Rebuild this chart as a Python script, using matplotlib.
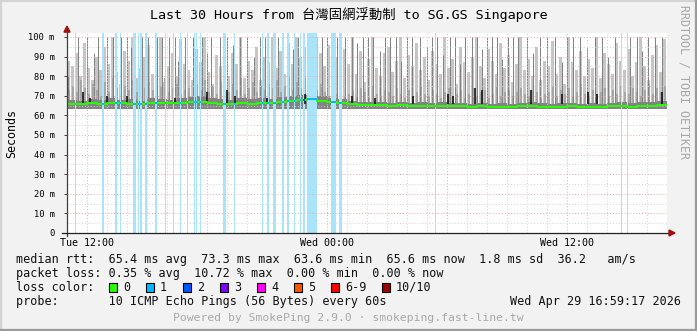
import numpy as np
import pandas as pd
import matplotlib
matplotlib.use("Agg")
import matplotlib.pyplot as plt
import matplotlib.dates as mdates
from matplotlib.patches import Rectangle, Polygon

start = pd.Timestamp("2026-04-28 11:00")
hours = 30

# median rtt in ms, one value every 30 minutes
median_rtt = [66.0, 65.8, 66.2, 65.9, 66.1, 66.3, 66.0, 65.7, 66.2, 66.4,
              66.1, 66.5, 66.8, 67.0, 66.4, 66.0, 65.8, 66.2, 66.0, 66.3,
              66.1, 66.6, 67.2, 67.8, 68.5, 67.6, 66.9, 66.2, 65.6, 65.4,
              65.2, 65.3, 65.0, 65.1, 64.9, 65.0, 64.8, 65.0, 64.9, 64.7,
              64.5, 64.6, 64.3, 64.5, 64.4, 64.6, 64.8, 64.5, 64.3, 64.4,
              64.6, 64.4, 64.5, 64.3, 64.6, 64.8, 64.5, 64.7, 65.0, 65.4]

# top of the dark smoke band near the median, every 30 minutes
smoke_dark = [68.0, 67.5, 68.5, 68.0, 69.0, 68.0, 68.5, 67.5, 69.0, 68.5,
              68.0, 69.0, 69.5, 70.0, 69.0, 68.5, 68.0, 69.0, 68.5, 69.0,
              68.5, 69.5, 70.0, 70.5, 71.0, 70.0, 69.0, 68.5, 67.5, 67.0,
              67.0, 67.0, 66.5, 67.0, 66.5, 67.0, 66.5, 67.0, 66.5, 66.5,
              66.0, 66.5, 66.0, 66.5, 66.0, 66.5, 67.0, 66.5, 66.0, 66.5,
              66.5, 66.0, 66.5, 66.0, 66.5, 67.0, 66.5, 67.0, 67.0, 67.5]

# smoke, one value every 12 minutes: highest ping (light) and middle pings
smoke_max = [88, 85, 92, 80, 97, 84, 78, 90, 83, 95,
             86, 100, 82, 76, 93, 88, 100, 79, 84, 90,
             96, 81, 88, 100, 77, 85, 92, 80, 99, 86,
             83, 78, 94, 87, 100, 82, 76, 91, 85, 97,
             80, 92, 86, 100, 79, 88, 83, 95, 78, 90,
             87, 100, 84, 93, 81, 97, 86, 100, 90, 95,
             98, 88, 100, 92, 85, 96, 83, 90, 79, 94,
             86, 100, 81, 93, 77, 89, 100, 84, 80, 92,
             95, 82, 88, 100, 79, 91, 85, 97, 83, 90,
             78, 93, 86, 81, 100, 84, 89, 76, 95, 87,
             82, 90, 100, 85, 79, 94, 88, 81, 97, 84,
             91, 77, 86, 100, 83, 89, 80, 95, 78, 88,
             85, 98, 81, 90, 76, 100, 87, 83, 93, 80,
             89, 84, 100, 79, 92, 86, 81, 97, 88, 83,
             94, 80, 87, 100, 85, 78, 91, 96, 82, 99]
smoke_mid = [73, 75, 72, 78, 74, 71, 76, 73, 70, 77,
             72, 79, 74, 71, 75, 73, 78, 72, 76, 74,
             77, 73, 71, 75, 79, 72, 74, 76, 71, 73,
             74, 70, 76, 73, 78, 72, 75, 71, 77, 74,
             72, 76, 73, 79, 71, 74, 77, 72, 75, 73,
             76, 74, 78, 72, 75, 80, 73, 77, 74, 79,
             78, 75, 73, 76, 72, 70, 74, 71, 73, 70,
             71, 73, 70, 74, 72, 69, 75, 71, 70, 73,
             72, 70, 74, 71, 69, 73, 70, 72, 75, 71,
             70, 73, 71, 69, 72, 74, 70, 71, 73, 69,
             71, 74, 70, 72, 73, 69, 71, 75, 70, 72,
             73, 70, 72, 74, 71, 70, 73, 72, 69, 71,
             72, 75, 70, 73, 71, 74, 70, 72, 76, 71,
             70, 73, 71, 72, 74, 70, 73, 71, 75, 72,
             71, 74, 72, 70, 73, 76, 71, 74, 72, 75]

# thin smoke spikes: minutes after start, top in ms
spike_min = [3, 33, 60, 81, 93, 120, 138, 162, 180, 192, 225, 243, 270, 285,
             306, 324, 333, 354, 378, 405, 420, 432, 459, 480, 498, 519, 540,
             561, 579, 594, 633, 660, 678, 693, 708, 723, 765, 780, 795, 810,
             834, 855, 870, 888, 903, 918, 939, 954, 969, 987, 1002, 1020,
             1035, 1059, 1080, 1095, 1110, 1128, 1149, 1164, 1179, 1194, 1215,
             1230, 1245, 1260, 1275, 1290, 1305, 1323, 1338, 1353, 1380, 1398,
             1419, 1440, 1464, 1485, 1500, 1518, 1539, 1560, 1584, 1605, 1623,
             1644, 1689, 1710, 1725, 1743, 1764, 1785]
spike_top = [80, 100, 100, 92, 100, 100, 100, 100, 100, 95, 100, 100, 100, 100,
             100, 100, 88, 100, 100, 100, 92, 100, 100, 100, 96, 100, 100,
             90, 100, 100, 100, 100, 94, 100, 100, 100, 100, 100, 90, 100,
             100, 100, 97, 100, 100, 100, 93, 100, 100, 100, 88, 100,
             100, 100, 95, 100, 100, 91, 100, 100, 86, 100, 100,
             100, 94, 100, 100, 100, 89, 100, 100, 100, 100, 92,
             100, 100, 100, 87, 100, 100, 100, 95, 100, 100, 90,
             100, 100, 100, 93, 100, 100, 100]

# short dark spikes close to the median
black_min = [48, 69, 120, 180, 324, 420, 480, 504, 600, 714, 855, 924, 1038,
             1143, 1158, 1224, 1245, 1392, 1485, 1563, 1590, 1785]
black_top = [72, 69, 70, 70, 69, 72, 73, 70, 69, 71, 70, 69, 70,
             71, 70, 74, 73, 73, 71, 72, 71, 72]

# packet loss: minutes after start, duration in minutes, lost pings out of 10
loss_start = [24, 105, 144, 159, 198, 213, 219, 234, 264, 294, 318, 339, 360,
              381, 387, 399, 468, 501, 585, 600, 618, 645, 660, 681, 699, 708,
              720, 792, 816, 1104, 1662, 1680]
loss_len = [3, 6, 6, 3, 9, 3, 6, 6, 6, 3, 3, 3, 3,
            3, 3, 3, 9, 3, 3, 6, 9, 6, 6, 3, 3, 6,
            30, 15, 9, 3, 3, 3]
loss_count = [1, 1, 1, 1, 1, 1, 1, 1, 1, 1, 1, 1, 1,
              1, 1, 1, 1, 1, 1, 1, 1, 1, 1, 1, 1, 2,
              1, 1, 1, 1, 1, 1]

loss_labels = ["0", "1", "2", "3", "4", "5", "6-9", "10/10"]
loss_colors = ["#26ff00", "#00b8ff", "#0059ff", "#7e00ff", "#ff00ff",
               "#ff5500", "#ff0000", "#a10000"]

W, H = 697, 331
mono = "DejaVu Sans Mono"


def fx(x):
    return x / W


def fy(y):
    return 1 - y / H


fig = plt.figure(figsize=(W / 100, H / 100), dpi=100, facecolor="#f2f2f2")
ax = fig.add_axes([fx(67), 98 / H, 600 / W, 200 / H], facecolor="white")

t0 = mdates.date2num(start)
mn = 1 / 1440.0
ppx = 3 * mn          # one pixel in x
ypx = 1 / 1.96        # one pixel in y (ms)
floor = 63.5

# smoke
xs = t0 + np.arange(len(smoke_max)) * 12 * mn
ax.bar(xs, np.array(smoke_max) - floor, bottom=floor, width=9 * mn,
       align="edge", color="#c6c6c6", linewidth=0, zorder=1)
ax.bar(xs + 3 * mn, np.array(smoke_mid) - floor, bottom=floor, width=7 * mn,
       align="edge", color="#a6a6a6", linewidth=0, zorder=2)
ax.vlines(t0 + np.array(spike_min) * mn, 66, spike_top, color="#808080",
          linewidth=0.7, zorder=2)
xh = t0 + np.arange(len(smoke_dark)) * 30 * mn
ax.bar(xh, np.array(smoke_dark) - floor, bottom=floor, width=30 * mn,
       align="edge", color="#838383", linewidth=0, zorder=3)

# loss background
ax.bar(t0 + np.array(loss_start) * mn, 110, bottom=0,
       width=np.array(loss_len) * mn, align="edge", color="#a8e4fa",
       linewidth=0, zorder=4)

# grid, drawn over the smoke
dots = (0, (1, 2))
for v in range(5, 101, 5):
    ax.axhline(v, color="#eeaaaa" if v % 10 == 0 else "#d2d2d2",
               linestyle=dots, linewidth=0.7, zorder=5)
for h in range(1, hours):
    ax.axvline(t0 + h / 24, color="#eeaaaa" if (11 + h) % 6 == 0 else "#d2d2d2",
               linestyle=dots, linewidth=0.7, zorder=5)

ax.vlines(t0 + np.array(black_min) * mn, 66, black_top, color="#141414",
          linewidth=1.2, zorder=6)

# median line coloured by loss
xm = np.append(xh, t0 + hours / 24)
ym = np.append(median_rtt, median_rtt[-1])
ax.step(xm, ym, where="post", color=loss_colors[0], linewidth=1.4, zorder=7)
for s, l, c in zip(loss_start, loss_len, loss_count):
    v = median_rtt[s // 30]
    ax.plot([t0 + s * mn, t0 + (s + l) * mn], [v, v], color=loss_colors[c],
            linewidth=1.4, solid_capstyle="butt", zorder=8)

ax.set_xlim(t0, t0 + hours / 24)
ax.set_ylim(0, 200 * ypx)
for sp in ax.spines.values():
    sp.set_visible(False)

# axes with arrows
ax.plot([t0, t0], [-3 * ypx, 102.5], color="#404040", linewidth=0.9,
        clip_on=False, zorder=9)
ax.plot([t0 - 5 * ppx, t0 + 604 * ppx], [0, 0], color="#202020",
        linewidth=0.9, clip_on=False, zorder=9)
ax.add_patch(Polygon([[t0 - 3 * ppx, 102.5], [t0 + 3 * ppx, 102.5],
                      [t0, 102.5 + 6 * ypx]], closed=True, color="#a01010",
                     clip_on=False, zorder=10))
xe = t0 + 602 * ppx
ax.add_patch(Polygon([[xe, -3 * ypx], [xe, 3 * ypx], [xe + 6 * ppx, 0]],
                     closed=True, color="#a01010", clip_on=False, zorder=10))

yt = list(range(0, 101, 10))
ax.set_yticks(yt)
ax.set_yticklabels(["0"] + [f"{v} m" for v in yt[1:]])
xt = [start + pd.Timedelta(hours=h) for h in (1, 13, 25)]
ax.set_xticks(mdates.date2num(xt))
ax.set_xticklabels([t.strftime("%a %H:%M") for t in xt])
ax.tick_params(axis="y", direction="out", length=2.5, width=0.7,
               color="#404040", pad=6.5, labelsize=6.3)
ax.tick_params(axis="x", length=0, pad=3.5, labelsize=7.2)
for lab in ax.get_xticklabels() + ax.get_yticklabels():
    lab.set_fontfamily(mono)

# texts
fig.text(fx(348.5), fy(15), "Last 30 Hours from 台灣固網浮動制 to SG.GS Singapore",
         ha="center", va="center", fontsize=9.6,
         family=[mono, "Noto Sans CJK TC"])
fig.text(fx(12), fy(133), "Seconds", rotation=90, ha="center", va="center",
         fontsize=8.4, family=mono)
fig.text(fx(684), fy(5), "RRDTOOL / TOBI OETIKER", rotation=270, ha="center",
         va="top", fontsize=8.4, family=mono, color="#a8a8a8")

lg = dict(fontsize=8.45, family=mono, va="center", ha="left", color="#111111")
fig.text(fx(16), fy(259.5),
         "median rtt:  65.4 ms avg  73.3 ms max  63.6 ms min  65.6 ms now  1.8 ms sd  36.2   am/s",
         **lg)
fig.text(fx(16), fy(273.5),
         "packet loss: 0.35 % avg  10.72 % max  0.00 % min  0.00 % now", **lg)
fig.text(fx(16), fy(287.5), "loss color:", **lg)
box_x = [108.5, 145.5, 182.5, 219.5, 256.5, 293.5, 330.5, 381.5]
for bx, lab, col in zip(box_x, loss_labels, loss_colors):
    fig.patches.append(Rectangle((fx(bx), fy(292)), 8.5 / W, 9 / H,
                                 transform=fig.transFigure, facecolor=col,
                                 edgecolor="black", linewidth=0.8))
    fig.text(fx(bx + 14.5), fy(287.5), lab, **lg)
fig.text(fx(16), fy(301.5),
         "probe:       10 ICMP Echo Pings (56 Bytes) every 60s", **lg)
fig.text(fx(681), fy(301.5), "Wed Apr 29 16:59:17 2026",
         **{**lg, "ha": "right"})
fig.text(fx(348.5), fy(318), "Powered by SmokePing 2.9.0 · smokeping.fast-line.tw",
         ha="center", va="center", fontsize=8.2, family=mono, color="#a8a8a8")

# 3d frame around the picture
for (x0, y0, x1, y1, c) in [(0, 0.5, W, 0.5, "#d4d4d4"), (0.5, 0, 0.5, H, "#d4d4d4"),
                            (0, H - 1.5, W, H - 1.5, "#9c9c9c"),
                            (W - 1.5, 0, W - 1.5, H, "#9c9c9c")]:
    fig.add_artist(plt.Line2D([fx(x0), fx(x1)], [fy(y0), fy(y1)],
                              transform=fig.transFigure, color=c, linewidth=1.6))

fig.savefig("out.png", dpi=100, facecolor=fig.get_facecolor())
